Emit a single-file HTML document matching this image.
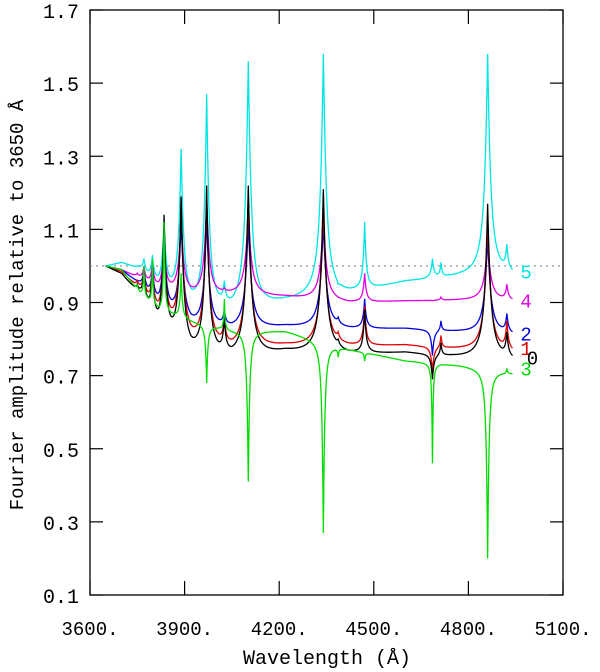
<!DOCTYPE html>
<html><head><meta charset="utf-8"><style>
body{margin:0;background:#fff;}
svg{display:block;font-family:"Liberation Mono",monospace;}
</style></head><body>
<svg id="chart" width="600" height="672" viewBox="0 0 600 672" xmlns="http://www.w3.org/2000/svg">
<g id="axes"></g>
<g id="series"></g>
<g id="labels"></g>
<text x="327" y="664" font-size="20" text-anchor="middle" fill="#000">Wavelength (Å)</text>
<text transform="translate(23,305) rotate(-90)" font-size="19" text-anchor="middle" fill="#000">Fourier amplitude relative to 3650 Å</text>
</svg>
<script>
const xTicks=[3600,3900,4200,4500,4800,5100];
const xTickLabels=["3600.","3900.","4200.","4500.","4800.","5100."];
const yTicks=[0.1,0.3,0.5,0.7,0.9,1.1,1.3,1.5,1.7];
const yTickLabels=["0.1","0.3","0.5","0.7","0.9","1.1","1.3","1.5","1.7"];
const seriesNames=["5","4","2","1","0","3"];
const seriesColors=["#00e5e5","#e000e0","#0000e0","#e00000","#000000","#00dd00"];
const contWave=[3650,3700,3760,3820,3920,4050,4220,4420,4600,4780,4940];
const cont5=[1.0,1.01,1.0,0.98,0.94,0.915,0.915,0.94,0.96,0.985,0.99];
const cont4=[1.0,0.99,0.975,0.96,0.945,0.935,0.92,0.905,0.905,0.91,0.91];
const cont2=[1.0,0.99,0.96,0.93,0.87,0.845,0.84,0.835,0.83,0.825,0.82];
const cont1=[1.0,0.985,0.95,0.91,0.84,0.80,0.79,0.79,0.785,0.78,0.775];
const cont0=[1.0,0.98,0.94,0.89,0.81,0.78,0.775,0.77,0.765,0.76,0.755];
const cont3=[1.0,0.99,0.93,0.89,0.85,0.82,0.82,0.77,0.74,0.725,0.705];
const lineWave=[3750,3771,3798,3835,3889,3970,4026,4102,4340,4387,4471,4686,4713,4861,4922];
const lineWidth=[3,3,3,4,5,5,3,6,6,3,3,3,2,6,3];
const peak5=[1.0,1.02,1.03,1.12,1.32,1.47,0.96,1.56,1.58,0.95,1.12,1.02,1.01,1.58,1.06];
const peak4=[0.98,1.0,1.01,1.06,1.13,1.18,0.94,1.15,1.13,0.915,0.98,0.905,0.915,1.07,0.95];
const peak2=[0.96,0.99,1.0,1.09,1.13,1.14,0.88,1.12,1.12,0.86,0.91,0.755,0.85,1.08,0.87];
const peak1=[0.96,0.99,1.0,1.10,1.18,1.19,0.86,1.19,1.17,0.82,0.89,0.71,0.81,1.13,0.85];
const peak0=[0.95,0.99,1.0,1.14,1.19,1.22,0.86,1.22,1.21,0.80,0.88,0.69,0.79,1.17,0.82];
const peak3=[0.95,1.0,1.02,1.12,0.98,0.68,0.91,0.41,0.27,0.75,0.74,0.46,0.73,0.20,0.72];
const labelValues=[0.985,0.905,0.815,0.775,0.75,0.72];
const widthScale=[1,1,1,1,1,0.45];

const X0=90,X1=563,Y0=595,Y1=10;
const xs=v=>X0+(v-3600)/(5100-3600)*(X1-X0);
const ys=v=>Y0-(v-0.1)/(1.7-0.1)*(Y0-Y1);
const NS="http://www.w3.org/2000/svg";
function mk(tag,attrs,parent){const e=document.createElementNS(NS,tag);for(const k in attrs)e.setAttribute(k,attrs[k]);parent.appendChild(e);return e;}
const axes=document.getElementById('axes');
const frame=mk('rect',{x:X0,y:Y1,width:X1-X0,height:Y0-Y1,fill:'none',stroke:'#000','stroke-width':1.3},axes);


xTicks.forEach((t,i)=>{
  const x=xs(t);
  const a=mk('line',{x1:x,y1:Y0,x2:x,y2:Y0-14,stroke:'#000','stroke-width':1.2},axes);
  
  
  const b=mk('line',{x1:x,y1:Y1,x2:x,y2:Y1+14,stroke:'#000','stroke-width':1.2},axes);
  
  
  const tx=mk('text',{x:x,y:635,'font-size':19,'text-anchor':'middle',fill:'#000'},axes);
  tx.textContent=xTickLabels[i];
  
  
});
yTicks.forEach((t,i)=>{
  const y=ys(t);
  const a=mk('line',{x1:X0,y1:y,x2:X0+13,y2:y,stroke:'#000','stroke-width':1.2},axes);
  
  
  const b=mk('line',{x1:X1,y1:y,x2:X1-13,y2:y,stroke:'#000','stroke-width':1.2},axes);
  
  
  const tx=mk('text',{x:79,y:y+8,'font-size':20,'text-anchor':'end',fill:'#000'},axes);
  tx.textContent=yTickLabels[i];
  
  
});
const ref=mk('line',{x1:X0,y1:ys(1.0),x2:X1,y2:ys(1.0),stroke:'#888','stroke-width':1.2,'stroke-dasharray':'2,4'},axes);



function interp(w,cw,cv){
  if(w<=cw[0])return cv[0];
  for(let i=1;i<cw.length;i++){if(w<=cw[i]){const f=(w-cw[i-1])/(cw[i]-cw[i-1]);return cv[i-1]+f*(cv[i]-cv[i-1]);}}
  return cv[cv.length-1];
}
let curScale=1;
function prof(w,i){ const dx=Math.abs(w-lineWave[i])/(lineWidth[i]*curScale); return 1/(1+dx*0.5+dx*dx*0.18); }
function wings(w,amps,skip){let s=0;for(let i=0;i<lineWave.length;i++){if(i!==skip)s+=amps[i]*prof(w,i);}return s;}
function solve(obs,pk){
  let base=obs.slice();
  let amps=lineWave.map(()=>0);
  for(let it=0;it<6;it++){
    amps=lineWave.map((lw,i)=>pk[i]-interp(lw,contWave,base)-wings(lw,amps,i));
    base=contWave.map((cw,j)=>obs[j]-wings(cw,amps,-1));
  }
  return {base,amps};
}
const conts=[cont5,cont4,cont2,cont1,cont0,cont3];
const peaks=[peak5,peak4,peak2,peak1,peak0,peak3];
const sg=document.getElementById('series');
const lg=document.getElementById('labels');
conts.forEach((cv,s)=>{
  curScale=widthScale[s];
  const sol=solve(cv,peaks[s]);
  let d='';
  for(let w=3650;w<=4940;w+=0.5){
    const v=interp(w,contWave,sol.base)+wings(w,sol.amps,-1);
    d+=(d?'L':'M')+xs(w).toFixed(2)+','+ys(v).toFixed(2);
  }
  const p=mk('path',{d:d,fill:'none',stroke:seriesColors[s],'stroke-width':1.3},sg);
  
  
  const t=mk('text',{x:seriesNames[s]==='0'?xs(4985):xs(4965),y:ys(labelValues[s])+7,'font-size':19,fill:seriesColors[s]},lg);
  t.textContent=seriesNames[s];
  
  
});
</script>
</body></html>
